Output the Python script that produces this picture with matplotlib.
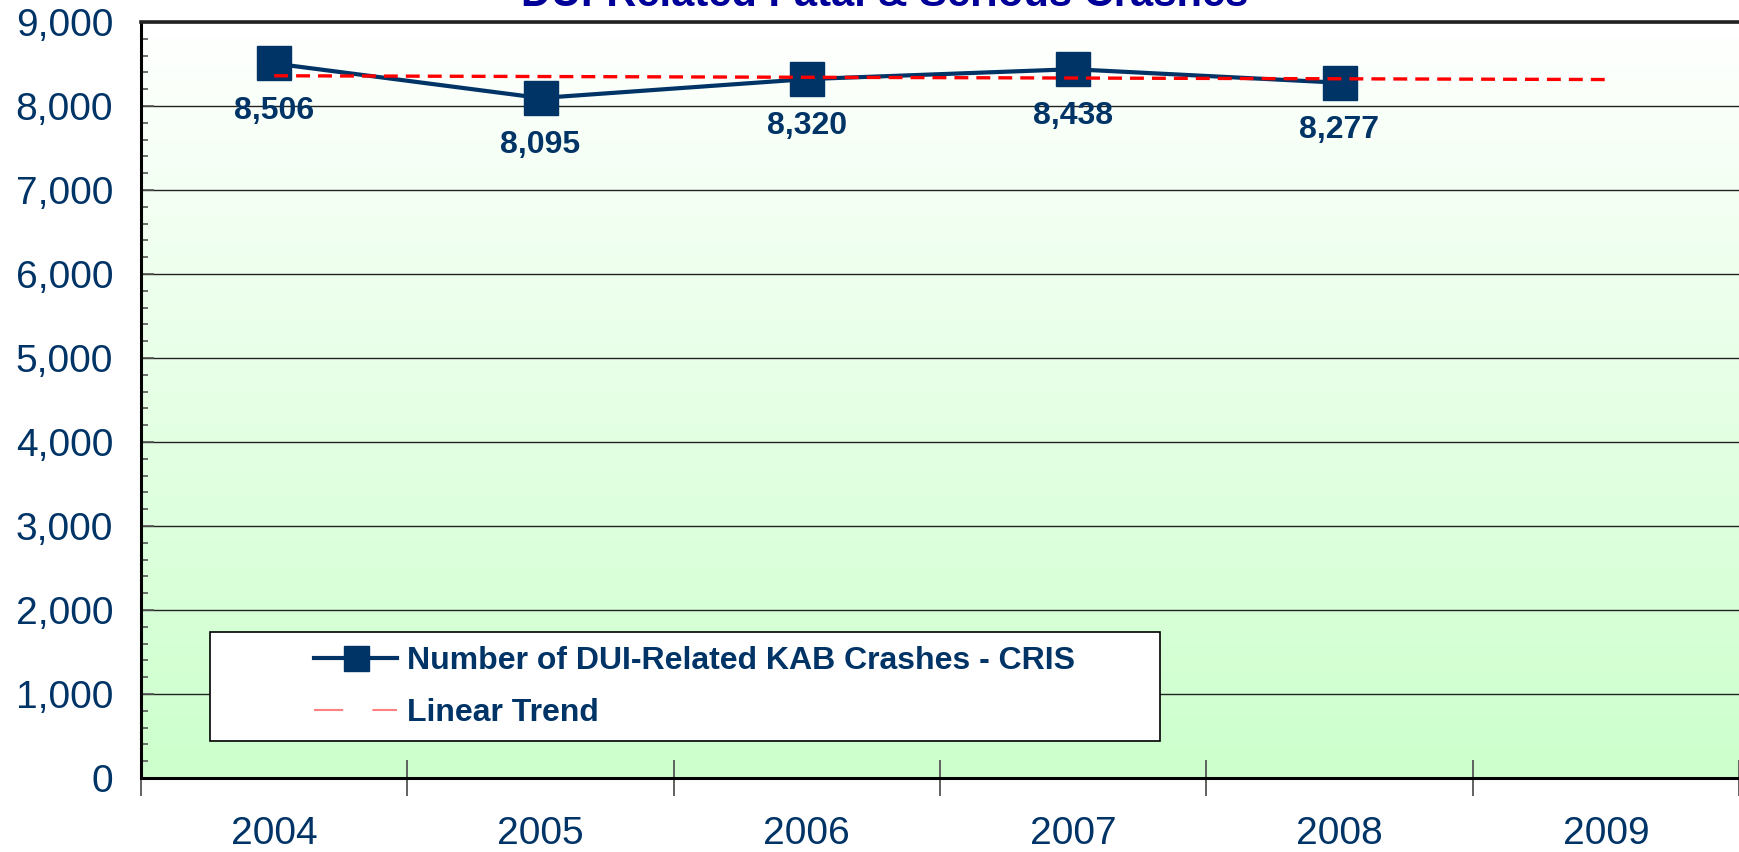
import numpy as np
import matplotlib
matplotlib.use("Agg")
import matplotlib.pyplot as plt
from matplotlib.lines import Line2D
from matplotlib.patches import Rectangle
from matplotlib.ticker import FixedLocator, MultipleLocator, FuncFormatter

plt.rcParams['font.family'] = ['Liberation Sans', 'DejaVu Sans']

# ---- data ----
years = ['2004', '2005', '2006', '2007', '2008', '2009']
crashes = [8506, 8095, 8320, 8438, 8277]
crash_labels = ['8,506', '8,095', '8,320', '8,438', '8,277']
trend_years_idx = [0, 5]
trend_values = [8360, 8315]
series_name = 'Number of DUI-Related KAB Crashes - CRIS'
trend_name = 'Linear Trend'
title = 'DUI-Related Fatal & Serious Crashes'

NAVY = '#003366'
W, H = 1739, 852
fig = plt.figure(figsize=(W / 100, H / 100), dpi=100)
ax_l, ax_r, ax_t, ax_b = 141, 1739, 22, 778
ax = fig.add_axes([ax_l / W, 1 - ax_b / H, (ax_r - ax_l) / W, (ax_b - ax_t) / H])

ax.set_xlim(-0.5, len(years) - 0.5)
ax.set_ylim(0, 9000)

# gradient background: light green at bottom -> white at top
grad = np.linspace(0, 1, 256).reshape(-1, 1, 1)
top_c = np.array([1.0, 1.0, 1.0])
bot_c = np.array([204, 255, 204]) / 255
img = bot_c * (1 - grad) + top_c * grad
ax.imshow(img, extent=[-0.5, len(years) - 0.5, 0, 9000], aspect='auto', zorder=0,
          origin='lower')
ax.set_xlim(-0.5, len(years) - 0.5)
ax.set_ylim(0, 9000)

# gridlines
ax.yaxis.set_major_locator(MultipleLocator(1000))
ax.yaxis.set_minor_locator(MultipleLocator(200))
ax.grid(axis='y', which='major', color='#222222', linewidth=1.0, zorder=1)
ax.set_axisbelow(True)

x = np.arange(len(crashes))
ax.plot(x, crashes, color=NAVY, lw=3.0, marker='s', markersize=24,
        markerfacecolor=NAVY, markeredgecolor=NAVY, zorder=4)
ax.plot(trend_years_idx, trend_values, color='#FF0000', lw=2.4,
        dashes=(10 / 2.4, 5.8 / 2.4), zorder=5)

for xi, v, lab in zip(x, crashes, crash_labels):
    ax.annotate(lab, (xi, v), xytext=(0, -34), textcoords='offset points',
                ha='center', va='center', fontsize=23, fontweight='bold',
                color=NAVY, zorder=6)

# spines
for s in ['left', 'bottom']:
    ax.spines[s].set_color('black')
    ax.spines[s].set_linewidth(2.2)
ax.spines['top'].set_color('#222222')
ax.spines['top'].set_linewidth(2.6)
ax.spines['right'].set_visible(False)

# y ticks
ax.yaxis.set_major_formatter(FuncFormatter(lambda v, p: f'{int(v):,}'))
ax.tick_params(axis='y', which='major', direction='in', length=9, width=1.2,
               color='#555555', labelsize=28, labelcolor=NAVY, pad=20)
ax.tick_params(axis='y', which='minor', direction='in', length=5, width=1.2,
               color='#555555')

# x ticks: boundaries as major (no labels), centers as minor (labels)
ax.xaxis.set_major_locator(FixedLocator(np.arange(-0.5, len(years), 1.0)))
ax.xaxis.set_minor_locator(FixedLocator(np.arange(len(years))))
ax.set_xticklabels([], minor=False)
ax.set_xticklabels(years, minor=True)
ax.tick_params(axis='x', which='major', direction='inout', length=26, width=1.3,
               color='#555555')
ax.tick_params(axis='x', which='minor', length=0, labelsize=28, labelcolor=NAVY,
               pad=27)

# legend frame
lx0, lx1, ly0, ly1 = 210, 1160, 632, 741
def axfx(px):
    return (px - ax_l) / (ax_r - ax_l)
def axfy(py):
    return (ax_b - py) / (ax_b - ax_t)
ax.add_patch(Rectangle((axfx(lx0), axfy(ly1)), axfx(lx1) - axfx(lx0),
                       axfy(ly0) - axfy(ly1), transform=ax.transAxes,
                       facecolor='white', edgecolor='black', lw=1.2, zorder=7))
handles = [
    Line2D([], [], color=NAVY, lw=3.0, marker='s', markersize=18,
           markerfacecolor=NAVY, markeredgecolor=NAVY),
    Line2D([], [], color='#FF8080', lw=1.5, dashes=(14, 14)),
]
leg = ax.legend(handles, [series_name, trend_name], loc='upper left',
                bbox_to_anchor=(axfx(314), axfy(646)), frameon=False,
                borderpad=0, borderaxespad=0, handlelength=2.6,
                handletextpad=0.31, labelspacing=0.69,
                prop={'size': 23, 'weight': 'bold'})
leg.set_zorder(8)
for t in leg.get_texts():
    t.set_color(NAVY)

fig.text(885 / W, 1 - 6 / H, title, ha='center', va='baseline', fontsize=30,
         fontweight='bold', color='#000099')

fig.savefig('out.png', dpi=100)
